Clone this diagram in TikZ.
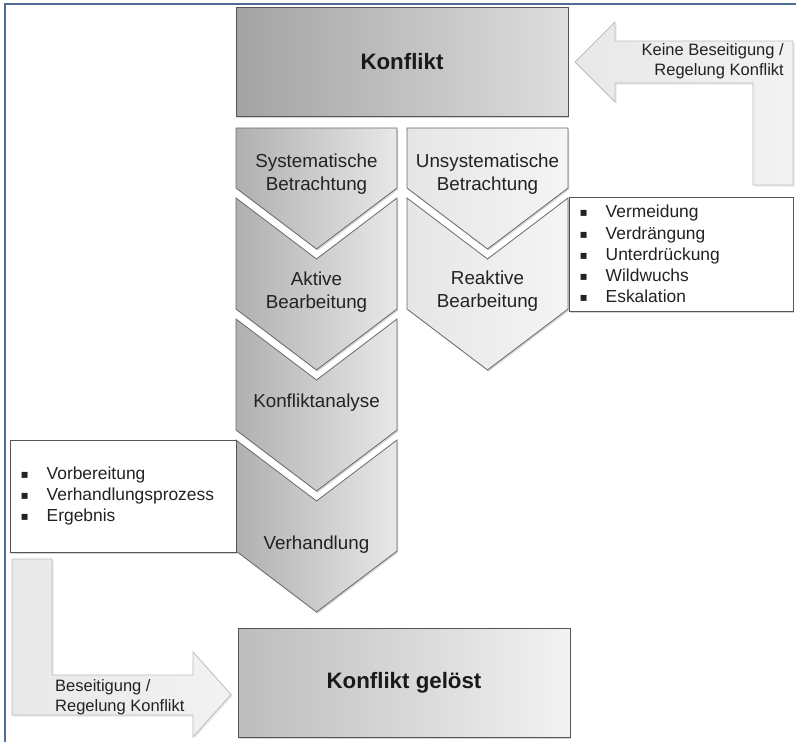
\documentclass[tikz,border=0pt]{standalone}
\usepackage{fontspec}
\setmainfont{Liberation Sans}
\newfontfamily\symfont{DejaVu Sans}
\usetikzlibrary{shadows}

\definecolor{frameblue}{HTML}{4E6E96}
\definecolor{edgegray}{HTML}{6A6A6A}
\definecolor{boxedge}{HTML}{555555}
\definecolor{arrowedge}{HTML}{BDBDBD}
\definecolor{textgray}{HTML}{222222}

\newcommand{\bul}{\makebox[26pt][l]{\symfont\raisebox{1pt}{\fontsize{12}{12}\selectfont ▪}}}

\begin{document}
\begin{tikzpicture}[x=1pt,y=-1pt,
  softshadow/.style={drop shadow={shadow xshift=1.2pt,shadow yshift=-1.5pt,opacity=0.28,fill=black!60}},
  chevdark/.style={left color=black!31,right color=black!9,draw=edgegray,line width=0.8pt,softshadow},
  chevlight/.style={left color=black!10,right color=black!4,draw=edgegray,line width=0.8pt,softshadow},
  topbox/.style={left color=black!36,right color=black!13,draw=boxedge,line width=1pt,softshadow,
    minimum width=332pt,minimum height=109pt,inner sep=0pt,
    font=\fontsize{22.3}{26}\selectfont\bfseries,text=black!90},
  endbox/.style={topbox,left color=black!26,right color=black!5},
  chevtext/.style={align=center,inner sep=0pt,text=textgray,font=\fontsize{18.8}{22.8}\selectfont},
  listbox/.style={draw=boxedge,fill=white,line width=1pt,softshadow,inner sep=0pt},
  listtext/.style={align=left,inner sep=0pt,text=textgray,font=\fontsize{17.4}{21.2}\selectfont},
  blockarrow/.style={left color=black!9,right color=black!5,draw=arrowedge,line width=0.8pt,
    drop shadow={shadow xshift=1.5pt,shadow yshift=-1.5pt,opacity=0.18,fill=black!50}},
  arrowtext/.style={inner sep=0pt,text=textgray,font=\fontsize{16.5}{20.5}\selectfont}]

\useasboundingbox (0,0) rectangle (796,742);
\fill[white] (0,0) rectangle (796,742);

% page frame
\draw[frameblue,line width=1.5pt] (5,742) -- (5,4) -- (796,4);

% return arrow (top right)
\path[blockarrow] (575,62) -- (615,22) -- (615,41) -- (793,41) -- (793,185)
  -- (753,185) -- (753,83) -- (615,83) -- (615,102) -- cycle;
\node[arrowtext,anchor=east,align=right] (keine) at (784,61)
  {Keine Beseitigung /\\Regelung Konflikt};

% exit arrow (bottom left)
\path[blockarrow] (12,559) -- (52,559) -- (52,675) -- (193,675) -- (193,652)
  -- (231,694.5) -- (193,737) -- (193,715) -- (12,715) -- cycle;
\node[arrowtext,anchor=west,align=left] (beseitigung) at (55,697)
  {Beseitigung /\\Regelung Konflikt};

% start and end boxes
\node[topbox] (konflikt) at (402,61.5) {Konflikt};
\node[endbox] (geloest) at (404,683) {Konflikt gelöst};

% systematic column
\path[chevdark] (236,128) -- (397,128) -- (397,188) -- (316.5,249) -- (236,188) -- cycle;
\path[chevdark] (236,198) -- (316.5,259) -- (397,198) -- (397,309) -- (316.5,370) -- (236,309) -- cycle;
\path[chevdark] (236,319) -- (316.5,380) -- (397,319) -- (397,430) -- (316.5,491) -- (236,430) -- cycle;
\path[chevdark] (236,440) -- (316.5,501) -- (397,440) -- (397,551) -- (316.5,612) -- (236,551) -- cycle;

\node[chevtext] (sys) at (316.5,174) {Systematische\\Betrachtung};
\node[chevtext] (aktiv) at (316.5,292) {Aktive\\Bearbeitung};
\node[chevtext] (analyse) at (316.5,403) {Konfliktanalyse};
\node[chevtext] (verhandlung) at (316.5,545) {Verhandlung};

% unsystematic column
\path[chevlight] (407,128) -- (568,128) -- (568,188) -- (487.5,249) -- (407,188) -- cycle;
\path[chevlight] (407,198) -- (487.5,259) -- (568,198) -- (568,309) -- (487.5,370) -- (407,309) -- cycle;

\node[chevtext] (unsys) at (487.5,174) {Unsystematische\\Betrachtung};
\node[chevtext] (reaktiv) at (487.5,291) {Reaktive\\Bearbeitung};

% detail lists
\node[listbox,minimum width=224pt,minimum height=114pt] (rlist) at (681,254) {};
\node[listtext,anchor=west] (rlisttext) at ([xshift=11pt]rlist.west)
  {\bul Vermeidung\\\bul Verdrängung\\\bul Unterdrückung\\\bul Wildwuchs\\\bul Eskalation};

\node[listbox,minimum width=226pt,minimum height=112pt] (llist) at (123,496) {};
\node[listtext,anchor=west] (llisttext) at ([xshift=11pt]llist.west)
  {\bul Vorbereitung\\\bul Verhandlungsprozess\\\bul Ergebnis};

\end{tikzpicture}
\end{document}
